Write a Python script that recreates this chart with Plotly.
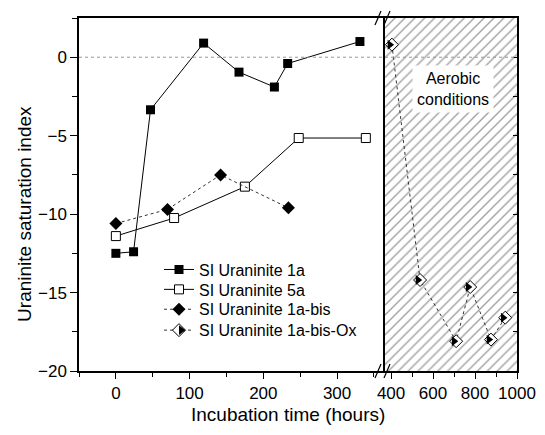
import plotly.graph_objects as go

# ---------------- data ----------------
x_1a = [0, 24, 47, 119, 167, 215, 233, 331]
y_1a = [-12.5, -12.4, -3.35, 0.9, -0.95, -1.9, -0.4, 1.0]

x_5a = [0, 79, 175, 248, 339]
y_5a = [-11.4, -10.25, -8.25, -5.15, -5.15]

x_1abis = [0, 70, 142, 234]
y_1abis = [-10.6, -9.7, -7.5, -9.6]

x_ox = [404, 538, 710, 777, 876, 944]
y_ox = [0.8, -14.2, -18.1, -14.65, -18.0, -16.6]

names = ["SI Uraninite 1a", "SI Uraninite 5a", "SI Uraninite 1a-bis", "SI Uraninite 1a-bis-Ox"]

X1_RANGE = [-50, 365]
X2_RANGE = [371, 1000]
Y_RANGE = [-20, 2.5]
X1_TICKS = [0, 100, 200, 300]
X2_TICKS = [400, 600, 800, 1000]
Y_TICKS = [-20, -15, -10, -5, 0]

FONT = "Liberation Sans, Arial, sans-serif"
OFF = 8  # default page margin of the html body
W, H = 545 - OFF, 435 - OFF
# page-pixel positions of the plotting area
PL, PR, PT, PB = 79, 517, 16, 371
ML, MR, MT, MB = PL - OFF, 545 - PR, PT - OFF, 435 - PB
PW, PH = PR - PL, PB - PT
SPLIT = (385 - PL) / PW


def px_x(p):
    return (p - PL) / PW


def px_y(p):
    return 1 - (p - PT) / PH


fig = go.Figure()

# hatched "aerobic" region filling the right panel
fig.add_trace(go.Scatter(
    x=[X2_RANGE[0], X2_RANGE[1], X2_RANGE[1], X2_RANGE[0], X2_RANGE[0]],
    y=[Y_RANGE[0], Y_RANGE[0], Y_RANGE[1], Y_RANGE[1], Y_RANGE[0]],
    xaxis="x2", yaxis="y2", mode="none", fill="toself",
    fillcolor="white",
    fillpattern=dict(shape="/", size=7, solidity=0.2, fgcolor="#444444", bgcolor="white"),
    showlegend=False, hoverinfo="skip"))

fig.add_trace(go.Scatter(
    x=x_1a, y=y_1a, name=names[0], mode="lines+markers", legend="legend",
    line=dict(color="black", width=1),
    marker=dict(symbol="square", size=9, color="black")))

fig.add_trace(go.Scatter(
    x=x_5a, y=y_5a, name=names[1], mode="lines+markers", legend="legend2",
    line=dict(color="black", width=1),
    marker=dict(symbol="square", size=9, color="white", line=dict(color="black", width=1))))

fig.add_trace(go.Scatter(
    x=x_1abis, y=y_1abis, name=names[2], mode="lines+markers", legend="legend3",
    line=dict(color="#333333", width=1, dash="dot"),
    marker=dict(symbol="diamond", size=10, color="black")))

fig.add_trace(go.Scatter(
    x=x_ox, y=y_ox, name=names[3], mode="lines+markers", legend="legend4",
    xaxis="x2", yaxis="y2",
    line=dict(color="#333333", width=1, dash="dot"),
    marker=dict(symbol="diamond", size=10, color="white", line=dict(color="black", width=1))))

# right half of the Ox diamonds filled
fig.add_trace(go.Scatter(
    x=x_ox, y=y_ox, mode="markers", xaxis="x2", yaxis="y2", name=" ",
    legend="legend5", showlegend=True, hoverinfo="skip",
    marker=dict(symbol="triangle-up", size=8.6, angle=90, standoff=2.15,
                color="black", line=dict(width=0))))

axis_common = dict(showline=True, linecolor="black", linewidth=1.5, showgrid=False,
                   zeroline=False, ticks="outside", tickcolor="black",
                   tickfont=dict(family=FONT, size=17, color="black"))

LEG_X = px_x(159)
LEG_ROWS = [269, 289, 309, 330]


def leg(row):
    return dict(x=LEG_X, y=px_y(row), xanchor="left", yanchor="middle",
                bgcolor="rgba(0,0,0,0)", font=dict(family=FONT, size=16, color="black"),
                itemwidth=30)


fig.update_layout(
    width=W, height=H,
    margin=dict(l=ML, r=MR, t=MT, b=MB),
    paper_bgcolor="white", plot_bgcolor="white",
    font=dict(family=FONT, color="black"),
    showlegend=True,
    legend=leg(LEG_ROWS[0]),
    legend2=leg(LEG_ROWS[1]),
    legend3=leg(LEG_ROWS[2]),
    legend4=leg(LEG_ROWS[3]),
    legend5=leg(LEG_ROWS[3]),
    xaxis=dict(domain=[0, SPLIT], range=X1_RANGE, anchor="y", tickvals=X1_TICKS,
               ticklen=6, mirror=True,
               minor=dict(dtick=50, ticklen=4, ticks="outside", tickcolor="black"),
               **axis_common),
    xaxis2=dict(domain=[SPLIT, 1], range=X2_RANGE, anchor="y2", tickvals=X2_TICKS,
                ticklen=6, mirror=True,
                minor=dict(dtick=100, ticklen=4, ticks="outside", tickcolor="black"),
                **axis_common),
    yaxis=dict(domain=[0, 1], range=Y_RANGE, anchor="x", tickvals=Y_TICKS,
               ticklen=7, mirror=True,
               minor=dict(dtick=2.5, ticklen=5, ticks="outside", tickcolor="black"),
               **axis_common),
    yaxis2=dict(domain=[0, 1], range=Y_RANGE, anchor="x2", matches="y", side="right",
                showticklabels=False, tickvals=[-17.5, -15, -12.5, -10, -7.5, -5, -2.5, 0],
                ticklen=4, mirror=True,
                showline=True, linecolor="black", linewidth=1.5, showgrid=False,
                zeroline=False, ticks="inside", tickcolor="black"),
)

# dotted zero reference line across both panels
fig.add_shape(type="line", xref="paper", yref="y", x0=0, x1=1, y0=0, y1=0,
              line=dict(color="#999999", width=1, dash="dot"), layer="above")

# axis-break marks
for px in (378, 387):
    for py in (PT, PB):
        fig.add_shape(type="line", xref="paper", yref="paper",
                      x0=px_x(px - 3), x1=px_x(px + 3),
                      y0=px_y(py + 7), y1=px_y(py - 7),
                      line=dict(color="black", width=1.2))

fig.add_annotation(x=695, y=-2.0, xref="x2", yref="y2", text="Aerobic<br>conditions",
                   showarrow=False, bgcolor="white", borderpad=4,
                   font=dict(family=FONT, size=16, color="black"))

fig.add_annotation(x=px_x(288), y=px_y(415), xref="paper", yref="paper",
                   text="Incubation time (hours)", showarrow=False,
                   xanchor="center", yanchor="middle",
                   font=dict(family=FONT, size=19, color="black"))

fig.add_annotation(x=px_x(25), y=px_y(213), xref="paper", yref="paper",
                   text="Uraninite saturation index", showarrow=False, textangle=-90,
                   xanchor="center", yanchor="middle",
                   font=dict(family=FONT, size=19, color="black"))

fig.write_html("out.html")
